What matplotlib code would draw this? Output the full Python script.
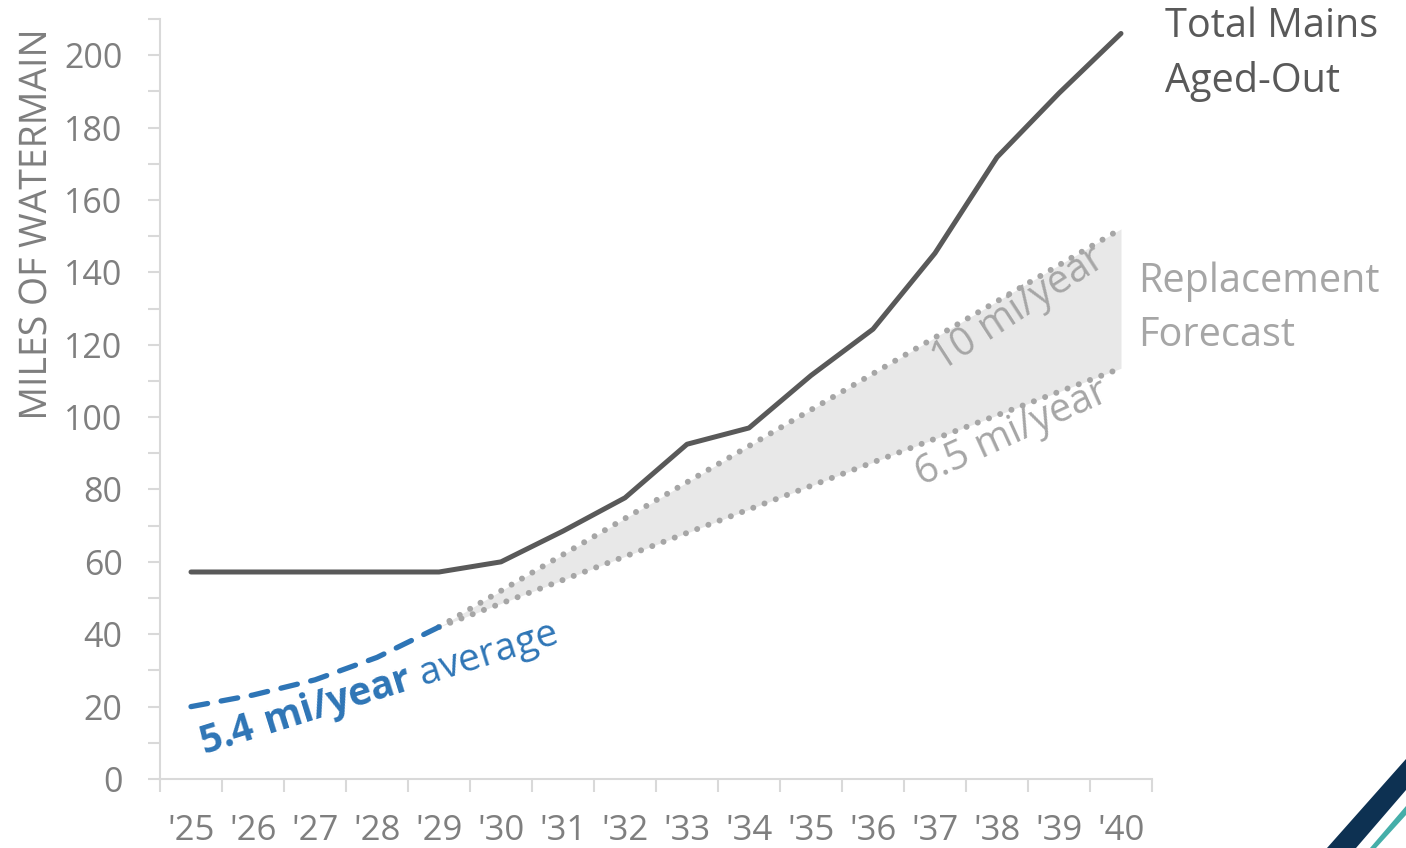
import numpy as np
import matplotlib
matplotlib.use("Agg")
import matplotlib.pyplot as plt
from matplotlib.font_manager import FontProperties
from matplotlib.patches import Polygon, PathPatch
from matplotlib.textpath import TextPath
from matplotlib.transforms import Affine2D
from matplotlib.ticker import MultipleLocator, FixedLocator, NullFormatter

# -------------------------------
# Data
# -------------------------------
years = ["'25", "'26", "'27", "'28", "'29", "'30", "'31", "'32",
         "'33", "'34", "'35", "'36", "'37", "'38", "'39", "'40"]

# total miles of main that reach end of life
total_aged_out = [57.2, 57.2, 57.2, 57.2, 57.2, 60.0, 68.5, 77.7,
                  92.5, 97.0, 111.5, 124.3, 145.3, 171.8, 189.5, 206.0]

# replaced to date ('25 - '29)
replaced_history = [20.0, 23.2, 27.4, 33.6, 42.0]

# forecast from '29 to '40 at 10 and 6.5 mi/year
forecast_high = [42.0, 52.0, 62.0, 72.0, 82.0, 92.0,
                 102.0, 112.0, 122.0, 132.0, 142.0, 152.0]
forecast_low = [42.0, 48.5, 55.0, 61.5, 68.0, 74.5,
                81.0, 87.5, 94.0, 100.5, 107.0, 113.5]

# -------------------------------
# Colours / fonts
# -------------------------------
DARK = "#595959"
AXIS = "#d9d9d9"
TICK_TXT = "#7f7f7f"
LIGHT = "#a6a6a6"
BAND = "#e8e8e8"
BLUE = "#2e75b6"

plt.rcParams["font.family"] = ["Open Sans", "DejaVu Sans"]
plt.rcParams["mathtext.fontset"] = "custom"
plt.rcParams["mathtext.rm"] = "Open Sans"
plt.rcParams["mathtext.bf"] = "Open Sans:bold"

W, H = 1406, 848

# -------------------------------
# Figure
# -------------------------------
fig = plt.figure(figsize=(W / 100, H / 100), dpi=100)
ax = fig.add_axes([160 / W, 69 / H, 992 / W, 760 / H])

x_all = np.arange(len(years))
x_hist = x_all[:len(replaced_history)]
x_fc = x_all[len(replaced_history) - 1:]

dots = (0, (0.01, 2.0))
ax.fill_between(x_fc, forecast_low, forecast_high, color=BAND, lw=0, zorder=1)
ax.plot(x_fc, forecast_high, color=LIGHT, lw=4.3, ls=dots,
        dash_capstyle="round", zorder=2)
ax.plot(x_fc, forecast_low, color=LIGHT, lw=4.3, ls=dots,
        dash_capstyle="round", zorder=2)
ax.plot(x_hist, replaced_history, color=BLUE, lw=3.8, ls=(0, (3.2, 2.6)),
        dash_capstyle="round", zorder=3)
ax.plot(x_all, total_aged_out, color=DARK, lw=3.6, solid_capstyle="round",
        solid_joinstyle="round", zorder=4)

ax.set_xlim(-0.5, len(years) - 0.5)
ax.set_ylim(0, 210)

# axes styling
for side in ["top", "right"]:
    ax.spines[side].set_visible(False)
for side in ["left", "bottom"]:
    ax.spines[side].set_color(AXIS)
    ax.spines[side].set_linewidth(1.5)

ax.yaxis.set_major_locator(MultipleLocator(20))
ax.yaxis.set_minor_locator(MultipleLocator(10))
ax.tick_params(axis="y", which="both", length=9, width=1.5, color=AXIS,
               labelcolor=TICK_TXT, labelsize=24.5, pad=18)

ax.xaxis.set_major_locator(FixedLocator(np.arange(-0.5, len(years), 1.0)))
ax.xaxis.set_major_formatter(NullFormatter())
ax.xaxis.set_minor_locator(FixedLocator(x_all))
ax.set_xticklabels(years, minor=True)
ax.tick_params(axis="x", which="major", length=9, width=1.5, color=AXIS)
ax.tick_params(axis="x", which="minor", length=0, labelcolor=TICK_TXT,
               labelsize=25, pad=25)

# axis title in a condensed look: squeeze the glyph outlines along the text
ytitle = TextPath((0, 0), "MILES OF WATERMAIN", size=38,
                  prop=FontProperties(family="Open Sans"))
ext = ytitle.get_extents()
squeeze = 384 / ext.width
tr = (Affine2D().translate(-ext.x0, 0).scale(squeeze, 1)
      .rotate_deg(90).translate(46, H - 417))
fig.patches.append(PathPatch(tr.transform_path(ytitle), facecolor=TICK_TXT,
                             edgecolor="none", transform=None))

# -------------------------------
# Annotations
# -------------------------------
ax.text(15.71, 205.0, "Total Mains", color=DARK, fontsize=28.5,
        ha="left", va="baseline", clip_on=False)
ax.text(15.71, 189.8, "Aged-Out", color=DARK, fontsize=28.5,
        ha="left", va="baseline", clip_on=False)

ax.text(15.27, 134.5, "Replacement", color=LIGHT, fontsize=28.5,
        ha="left", va="baseline", clip_on=False)
ax.text(15.27, 119.6, "Forecast", color=LIGHT, fontsize=28.5,
        ha="left", va="baseline", clip_on=False)

ax.text(12.1, 112.5, "10 mi/year", color=LIGHT, fontsize=28.5,
        rotation=33, rotation_mode="anchor", ha="left", va="baseline")
ax.text(11.78, 81.0, "6.5 mi/year", color=LIGHT, fontsize=28.5,
        rotation=24.5, rotation_mode="anchor", ha="left", va="baseline")

ax.text(0.2, 6.8, r"$\mathbf{5.4\ mi/year}$ average", color=BLUE,
        fontsize=28, rotation=17.4, rotation_mode="anchor",
        ha="left", va="baseline")

# corner stripes
navy = [(1327, 848), (1406, 759), (1406, 790), (1356, 848)]
teal = [(1370, 848), (1406, 806), (1406, 815), (1376, 848)]
for pts, col in [(navy, "#0d3152"), (teal, "#45aea9")]:
    fig.patches.append(Polygon([(px / W, 1 - py / H) for px, py in pts],
                               closed=True, transform=fig.transFigure,
                               facecolor=col, edgecolor="none"))

fig.savefig("out.png", dpi=100)
